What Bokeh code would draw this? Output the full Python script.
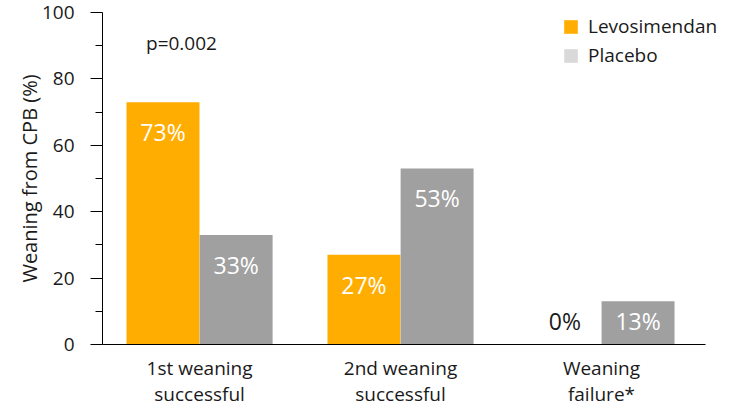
from bokeh.plotting import figure
from bokeh.models import Range1d, FixedTicker, Legend, LegendItem, Label, ColumnDataSource
from bokeh.core.properties import value
from bokeh.embed import file_html
from bokeh.resources import INLINE

# ---- data ----
categories = ["1st weaning\nsuccessful", "2nd weaning\nsuccessful", "Weaning\nfailure*"]
levosimendan = [73, 27, 0]
placebo = [33, 53, 13]
series_names = ["Levosimendan", "Placebo"]
y_ticks = [0, 20, 40, 60, 80, 100]
y_minor_ticks = [10, 30, 50, 70, 90]
p_value_text = "p=0.002"
y_title = "Weaning from CPB (%)"

# ---- style ----
FONT = "Open Sans"
ORANGE = "#FFAD00"
GREY = "#A0A0A0"
LIGHT = "#D9D9D9"
TXT = "#1a1a1a"

xs = list(range(1, len(categories) + 1))
dodge = 0.182
bar_w = 0.363
x_lo, x_hi = 0.517, 3.517

p = figure(width=732, height=410, output_backend="svg", toolbar_location=None,
           x_range=Range1d(x_lo, x_hi + 0.135), y_range=Range1d(0, 100),
           min_border_left=102, min_border_right=0, min_border_top=12, min_border_bottom=66)
p.outline_line_color = None
p.xgrid.visible = False
p.ygrid.visible = False


def label_y(v):
    return max(v - 9, 7)


def label_color(v):
    return "white" if v > 5 else TXT


renderers = []
for vals, off, col in [(levosimendan, -dodge, ORANGE), (placebo, dodge, GREY)]:
    src = ColumnDataSource(dict(
        x=[x + off for x in xs], top=vals,
        ly=[label_y(v) for v in vals],
        txt=[f"{v}%" for v in vals],
        tc=[label_color(v) for v in vals],
    ))
    r = p.vbar(x="x", top="top", bottom=0, width=bar_w, source=src,
               fill_color=col, line_color=None)
    renderers.append((r, src))
    p.text(x="x", y="ly", text="txt", source=src, text_align="center",
           text_baseline="middle", text_font=value(FONT), text_font_size="23px",
           text_color="tc")

# placebo legend swatch is lighter than its bars: zero-height proxy bars carry that colour
r_p_legend = p.vbar(x="x", top="top", bottom="top", width=bar_w, source=renderers[1][1],
                    fill_color=LIGHT, line_color=None)

legend = Legend(items=[LegendItem(label=series_names[0], renderers=[renderers[0][0]], index=0),
                       LegendItem(label=series_names[1], renderers=[r_p_legend], index=0)],
                location=(460, 276), glyph_width=17, glyph_height=17,
                label_standoff=9, spacing=3, padding=0, margin=0,
                border_line_color=None, background_fill_alpha=0,
                label_text_font=FONT, label_text_font_size="19px",
                label_text_color=TXT)
p.add_layout(legend)

p.add_layout(Label(x=0.91, y=90.7, text=p_value_text, text_align="center",
                   text_baseline="middle", text_font=FONT, text_font_size="19px",
                   text_color=TXT))

# y axis
ya = p.yaxis[0]
ya.ticker = FixedTicker(ticks=y_ticks, minor_ticks=y_minor_ticks)
ya.major_tick_out = 12
ya.major_tick_in = 0
ya.minor_tick_out = 7
ya.minor_tick_in = 0
ya.major_label_standoff = 16
ya.axis_line_color = "black"
ya.major_tick_line_color = "black"
ya.minor_tick_line_color = "black"
ya.major_label_text_font = FONT
ya.major_label_text_font_size = "19px"
ya.major_label_text_color = TXT
ya.axis_label = y_title
ya.axis_label_text_font = FONT
ya.axis_label_text_font_size = "20px"
ya.axis_label_text_font_style = "normal"
ya.axis_label_text_color = TXT
ya.axis_label_standoff = -4

# x axis
xa = p.xaxis[0]
xa.ticker = FixedTicker(ticks=xs)
xa.bounds = (x_lo, x_hi)
xa.major_label_overrides = {x: c for x, c in zip(xs, categories)}
xa.major_tick_line_color = None
xa.minor_tick_line_color = None
xa.axis_line_color = "black"
xa.major_label_standoff = 4
xa.major_label_text_font = FONT
xa.major_label_text_font_size = "19px"
xa.major_label_text_line_height = 1.0
xa.major_label_text_color = TXT

open("out.html", "w").write(file_html(p, INLINE))
